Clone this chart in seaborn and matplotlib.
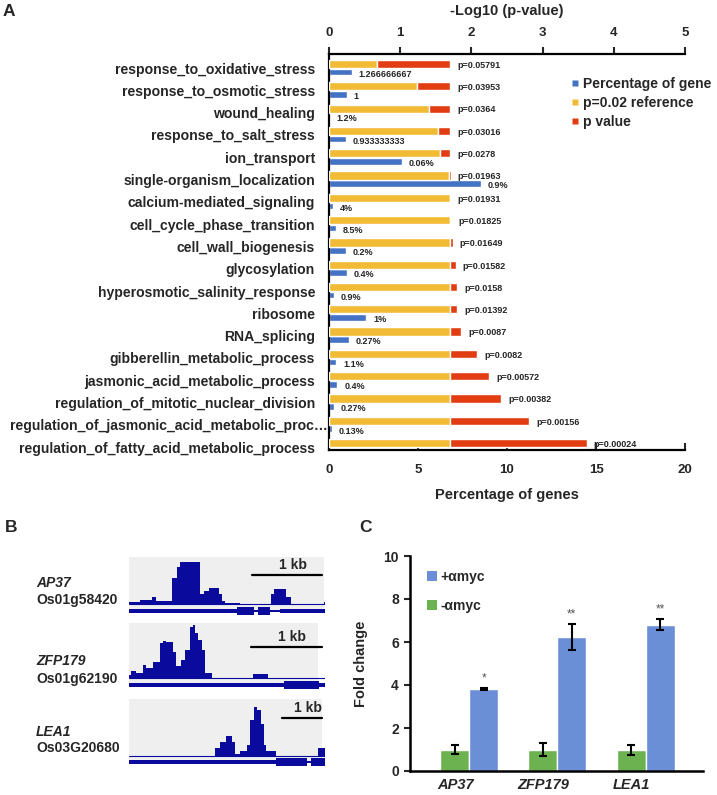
import numpy as np
import pandas as pd
import matplotlib
matplotlib.use('Agg')
import matplotlib.pyplot as plt
import seaborn as sns
from matplotlib.lines import Line2D
from matplotlib.patches import Patch, Rectangle
from matplotlib.transforms import ScaledTranslation

# ---------------- data: panel A ----------------
go_terms = ["response_to_oxidative_stress", "response_to_osmotic_stress", "wound_healing",
            "response_to_salt_stress", "ion_transport", "single-organism_localization",
            "calcium-mediated_signaling", "cell_cycle_phase_transition", "cell_wall_biogenesis",
            "glycosylation", "hyperosmotic_salinity_response", "ribosome", "RNA_splicing",
            "gibberellin_metabolic_process", "jasmonic_acid_metabolic_process",
            "regulation_of_mitotic_nuclear_division",
            "regulation_of_jasmonic_acid_metabolic_proc\u2026",
            "regulation_of_fatty_acid_metabolic_process"]
gene_pct = [1.27, 1.0, 0.0, 0.93, 4.08, 8.54, 0.2, 0.4, 0.95, 1.0, 0.28, 2.08, 1.13, 0.4, 0.47, 0.28, 0.15, 0.17]
gene_pct_labels = ["1.266666667", "1", "1.2%", "0.933333333", "0.06%", "0.9%", "4%", "8.5%", "0.2%",
                   "0.4%", "0.9%", "1%", "0.27%", "1.1%", "0.4%", "0.27%", "0.13%", "0.2%"]
ref_logp = [0.67, 1.24, 1.41, 1.53, 1.56, 1.69, 1.70, 1.70, 1.70, 1.70, 1.70, 1.70, 1.70, 1.70, 1.70, 1.70, 1.70, 1.70]
pval_logp = [1.70, 1.70, 1.70, 1.70, 1.70, 1.71, 1.71, 1.72, 1.74, 1.78, 1.80, 1.80, 1.86, 2.08, 2.25, 2.42, 2.81, 3.62]
pval_labels = ["p=0.05791", "p=0.03953", "p=0.0364", "p=0.03016", "p=0.0278", "p=0.01963", "p=0.01931",
               "p=0.01825", "p=0.01649", "p=0.01582", "p=0.0158", "p=0.01392", "p=0.0087", "p=0.0082",
               "p=0.00572", "p=0.00382", "p=0.00156", "p=0.00024"]

# ---------------- data: panel B (coverage tracks, relative window position 0-100) ----------------
trk_names = ["AP37", "ZFP179", "LEA1"]
trk_ids = ["Os01g58420", "Os01g62190", "Os03G20680"]
trk_window_kb = [2.8, 2.76, 4.9]
cov1_pos = [0, 5.5, 11.5, 14.0, 21.7, 24.3, 26.0, 36.3, 38.4, 40.6, 45.7, 47.4, 49.1, 56.8, 72.3, 74.0, 80.0, 82.5, 99.3, 100]
cov1_val = [4, 9, 16, 6, 63, 88, 100, 25, 31, 37, 24, 8, 2, 0, 25, 35, 16, 0, 5]
cov2_pos = [0, 1.2, 3.7, 7.2, 8.9, 12.3, 15.7, 17.4, 19.1, 22.5, 24.2, 26.7, 28.4, 31.0, 32.4, 33.6, 35.3, 37.0, 38.7, 42.1, 63.4, 71.0, 100]
cov2_val = [6, 14, 9, 25, 19, 31, 66, 70, 67, 50, 22, 34, 53, 97, 100, 84, 72, 53, 9, 0, 8, 0]
cov3_pos = [0, 43.7, 46.3, 49.7, 52.3, 54.1, 56.7, 60.1, 61.9, 63.6, 65.3, 67.1, 68.8, 69.7, 74.9, 96.5, 100]
cov3_val = [0, 16, 28, 41, 29, 5, 11, 22, 73, 100, 93, 66, 22, 11, 0, 16]
# gene models: (start, end, kind) kind 0=thin, 1=medium, 2=thick
gm1 = [(0, 55, 1), (55, 64, 2), (64, 66, 0), (66, 72, 2), (72, 77, 0), (77, 100, 1)]
gm2 = [(0, 79, 1), (79, 97, 2), (97, 100, 1)]
gm3 = [(0, 75, 1), (75, 91, 2), (91, 93, 0), (93, 100, 2)]

# ---------------- data: panel C ----------------
genes = ["AP37", "ZFP179", "LEA1"]
minus_myc = [1.0, 1.0, 0.97]
minus_err = [0.22, 0.3, 0.22]
plus_myc = [3.8, 6.25, 6.8]
plus_err = [0.05, 0.6, 0.26]
stars = ["*", "**", "**"]

# ---------------- style ----------------
sns.set_style('white')
plt.rcParams['font.family'] = ['Liberation Sans', 'DejaVu Sans']
plt.rcParams['font.weight'] = 'bold'
plt.rcParams['axes.labelweight'] = 'bold'

BLUE_A = '#4472C4'
YELLOW = '#F2BB35'
RED = '#E23D12'
NAVY = '#0A0A9C'
GRAYBG = '#efefef'
BLUE_C = '#6B8FD6'
GREEN_C = '#6CB250'

W, H = 717, 795
fig = plt.figure(figsize=(W / 100, H / 100), dpi=100)


def fx(px):
    return px / W


def fy(py):
    return 1 - py / H


def box(l, t, r, b):
    return [fx(l), fy(b), fx(r) - fx(l), fy(t) - fy(b)]


# ================= Panel A =================
axA = fig.add_axes(box(329, 54, 685, 450))
n = len(go_terms)
ypos = np.arange(n)
axA.barh(ypos + 0.18, gene_pct, height=0.30, color=BLUE_A, zorder=2)
axA.set_xlim(0, 20)
axA.set_ylim(17.13, -0.63)
axA.set_xticks([0, 5, 10, 15, 20])
axA.tick_params(axis='x', direction='in', length=5, width=1.5, labelsize=9.5, pad=10, bottom=True)
axA.set_yticks(ypos)
axA.set_yticklabels(go_terms, fontsize=10.1, fontweight='bold')
axA.tick_params(axis='y', length=0, pad=10)
ylabs = axA.get_yticklabels()
ylabs[16].set_transform(ylabs[16].get_transform() + ScaledTranslation(0.13, 0, fig.dpi_scale_trans))
for lab in axA.get_xticklabels():
    lab.set_fontweight('bold')
for s in ['right', 'top']:
    axA.spines[s].set_visible(False)
for s in ['left', 'bottom']:
    axA.spines[s].set_linewidth(1.6)
    axA.spines[s].set_color('black')

for i in range(n):
    axA.annotate(gene_pct_labels[i], xy=(gene_pct[i], ypos[i] + 0.28), xytext=(5, 0),
                 textcoords='offset points', va='center', ha='left', fontsize=6.5, fontweight='bold')

axT = axA.twiny()
axT.set_xlim(0, 5)
ref_arr = np.array(ref_logp)
pv_arr = np.array(pval_logp)
axT.barh(ypos - 0.18, ref_arr, height=0.37, color=YELLOW, zorder=2)
axT.barh(ypos - 0.18, pv_arr - ref_arr, left=ref_arr, height=0.37, color=RED, zorder=2)
axT.set_xticks([0, 1, 2, 3, 4, 5])
axT.tick_params(axis='x', direction='out', length=5, width=1.5, labelsize=9.5, pad=6, top=True)
for lab in axT.get_xticklabels():
    lab.set_fontweight('bold')
for s in ['right', 'bottom', 'left']:
    axT.spines[s].set_visible(False)
axT.spines['top'].set_linewidth(1.6)
axT.spines['top'].set_color('black')
for i in range(n):
    axT.annotate(pval_labels[i], xy=(pval_logp[i], ypos[i] - 0.12), xytext=(5, 0),
                 textcoords='offset points', va='center', ha='left', fontsize=6.5, fontweight='bold')

legA = [Line2D([0], [0], marker='s', color='none', markerfacecolor=BLUE_A, markeredgecolor='none', markersize=5),
        Line2D([0], [0], marker='s', color='none', markerfacecolor=YELLOW, markeredgecolor='none', markersize=5),
        Line2D([0], [0], marker='s', color='none', markerfacecolor=RED, markeredgecolor='none', markersize=5)]
fig.legend(legA, ["Percentage of gene", "p=0.02 reference", "p value"], loc='upper left',
           bbox_to_anchor=(fx(564), fy(70)), bbox_transform=fig.transFigure, frameon=False,
           handlelength=0.6, handletextpad=0.3, borderpad=0, labelspacing=0.35,
           prop={'weight': 'bold', 'size': 10})

fig.text(fx(507), fy(11), "-Log10 (p-value)", ha='center', va='center', fontsize=10.5, fontweight='bold')
fig.text(fx(507), fy(495), "Percentage of genes", ha='center', va='center', fontsize=10.5, fontweight='bold')
fig.text(fx(9), fy(11), "A", ha='center', va='center', fontsize=12.5, fontweight='bold')

# ================= Panel B =================
tracks = [
    dict(box=(129, 557, 325, 617), base=604, peak=42, gene_y=611, bar_y=575, bg_right=99.5,
         pos=cov1_pos, val=cov1_val, gm=gm1),
    dict(box=(129, 623, 325, 690), base=678, peak=53, gene_y=685, bar_y=647, bg_right=96.4,
         pos=cov2_pos, val=cov2_val, gm=gm2),
    dict(box=(129, 699, 325, 767), base=756, peak=49, gene_y=762, bar_y=718, bg_right=98.5,
         pos=cov3_pos, val=cov3_val, gm=gm3),
]
thick = {0: 2.0, 1: 4.5, 2: 7.5}
label_y = [(583, 600), (661, 679), (732, 748)]
for k, t in enumerate(tracks):
    l, tp, r, b = t['box']
    ax = fig.add_axes(box(l, tp, r, b))
    ax.set_xlim(0, 100)
    ax.set_ylim(-(b - t['base']), t['base'] - tp)
    ax.axis('off')
    ax.add_patch(Rectangle((0, -(t['gene_y'] - t['base']) + 1), t['bg_right'],
                           (t['base'] - tp) + (t['gene_y'] - t['base']) - 1,
                           facecolor=GRAYBG, edgecolor='none', zorder=0))
    sc = t['peak'] / 100.0
    vals = np.array(t['val'] + [t['val'][-1]]) * sc
    ax.fill_between(t['pos'], vals, 0, step='post', color=NAVY, linewidth=0, zorder=2, clip_on=False)
    ax.axhline(0, color=NAVY, lw=0.8, zorder=2)
    gy = -(t['gene_y'] - t['base'])
    for (s0, s1, kind) in t['gm']:
        hh = thick[kind]
        ax.add_patch(Rectangle((s0, gy - hh / 2), s1 - s0, hh, facecolor=NAVY, edgecolor='none', zorder=3))
    # scale bar (1 kb)
    kb = 100.0 / trk_window_kb[k]
    by = t['base'] - t['bar_y']
    x_end = 98.5
    ax.plot([x_end - kb, x_end], [by, by], color='black', lw=1.6, clip_on=False, zorder=4)
    ax.text(x_end - kb / 2 + 3, by + 3, "1 kb", ha='center', va='bottom', fontsize=10,
            fontweight='bold', clip_on=False)
    fig.text(fx(36), fy(label_y[k][0]), trk_names[k], ha='left', va='center', fontsize=10,
             fontweight='bold', style='italic')
    fig.text(fx(36), fy(label_y[k][1]), trk_ids[k], ha='left', va='center', fontsize=10,
             fontweight='bold')

fig.text(fx(11), fy(528), "B", ha='center', va='center', fontsize=12.5, fontweight='bold')

# ================= Panel C =================
axC = fig.add_axes(box(410, 556, 703, 771))
dfC = pd.DataFrame({
    'gene': genes + genes,
    'cond': ['-\u03b1myc'] * 3 + ['+\u03b1myc'] * 3,
    'fold': minus_myc + plus_myc,
})
sns.barplot(data=dfC, x='gene', y='fold', hue='cond', hue_order=['-\u03b1myc', '+\u03b1myc'],
            palette=[GREEN_C, BLUE_C], width=0.655, errorbar=None, saturation=1, ax=axC, legend=False)
errs = [minus_err, plus_err]
means = [minus_myc, plus_myc]
bar_conts = list(axC.containers)
for ci, cont in enumerate(bar_conts):
    for j, bar in enumerate(list(cont)):
        cx = bar.get_x() + bar.get_width() / 2
        axC.errorbar(cx, means[ci][j], yerr=errs[ci][j], color='black', capsize=3, elinewidth=1.5,
                     capthick=1.5, fmt='none', zorder=5)
        if ci == 1:
            axC.text(cx, means[ci][j] + errs[ci][j] + 0.45, stars[j], ha='center', va='center',
                     fontsize=8.5, color='#555555', fontweight='normal')
axC.set_xlim(-0.67, 2.65)
axC.set_ylim(0, 10)
axC.set_yticks([0, 2, 4, 6, 8, 10])
axC.tick_params(axis='y', direction='out', length=4, width=1.5, labelsize=10, pad=4, left=True)
axC.tick_params(axis='x', length=0, labelsize=10.5, pad=5)
for lab in axC.get_yticklabels():
    lab.set_fontweight('bold')
for lab in axC.get_xticklabels():
    lab.set_fontweight('bold')
    lab.set_style('italic')
    lab.set_transform(lab.get_transform() + ScaledTranslation(-0.14, 0, fig.dpi_scale_trans))
axC.set_xlabel('')
axC.set_ylabel('Fold change', fontsize=10.5, fontweight='bold')
axC.yaxis.set_label_coords(-0.143, 0.5)
for s in ['top', 'right']:
    axC.spines[s].set_visible(False)
for s in ['left', 'bottom']:
    axC.spines[s].set_linewidth(1.8)
    axC.spines[s].set_color('black')

legC = [Patch(facecolor=BLUE_C, edgecolor='none'), Patch(facecolor=GREEN_C, edgecolor='none')]
fig.legend(legC, ['+\u03b1myc', '-\u03b1myc'], loc='upper left', bbox_to_anchor=(fx(420), fy(563)),
           bbox_transform=fig.transFigure, frameon=False, handlelength=0.7, handleheight=0.7,
           handletextpad=0.3, labelspacing=1.05, borderpad=0, prop={'weight': 'bold', 'size': 10})

fig.text(fx(365), fy(528), "C", ha='center', va='center', fontsize=12.5, fontweight='bold')

fig.savefig('out.png', dpi=100)
